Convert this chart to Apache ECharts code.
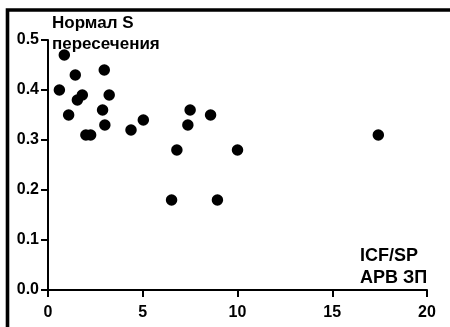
<!DOCTYPE html>
<html><head><meta charset="utf-8">
<script src="https://cdn.jsdelivr.net/npm/echarts@6/dist/echarts.min.js"></script>
<style>html,body{margin:0;padding:0;background:#fff}#c{width:450px;height:327px}</style>
</head><body><div id="c"></div>
<script>
const xValues = [0.86, 0.6, 1.44, 1.09, 1.55, 1.81, 2.0, 2.25, 2.97, 2.88, 3.23, 3.0, 4.38, 5.03, 6.8, 7.5, 7.38, 8.58, 10.0, 17.43, 6.52, 8.94];
const yValues = [0.47, 0.40, 0.43, 0.35, 0.38, 0.39, 0.31, 0.31, 0.44, 0.36, 0.39, 0.33, 0.32, 0.34, 0.28, 0.36, 0.33, 0.35, 0.28, 0.31, 0.18, 0.18];
const yAxisTitle = ['Нормал S', 'пересечения'];
const xAxisTitle = ['ICF/SP', 'АРВ ЗП'];

const points = xValues.map((x, i) => [x, yValues[i]]);
const chart = echarts.init(document.getElementById('c'));
const font = 'Liberation Sans, Arial, sans-serif';
chart.setOption({
  animation: false,
  grid: {left: 48, right: 23, top: 40, bottom: 37},
  xAxis: {
    type: 'value', min: 0, max: 20, interval: 5,
    axisLine: {show: true, lineStyle: {color: '#000', width: 2}},
    axisTick: {show: true, length: 7, lineStyle: {color: '#000', width: 2}},
    splitLine: {show: false},
    axisLabel: {color: '#000', fontFamily: font, fontWeight: 'bold', fontSize: 16, margin: 15}
  },
  yAxis: {
    type: 'value', min: 0, max: 0.5, interval: 0.1,
    axisLine: {show: true, lineStyle: {color: '#000', width: 2}},
    axisTick: {show: true, length: 7, lineStyle: {color: '#000', width: 2}},
    splitLine: {show: false},
    axisLabel: {color: '#000', fontFamily: font, fontWeight: 'bold', fontSize: 16, margin: 9,
      formatter: v => v.toFixed(1)}
  },
  series: [{
    type: 'scatter', data: points, symbol: 'circle', symbolSize: 11.5,
    itemStyle: {color: '#000', opacity: 1}
  }],
  graphic: [
    {type: 'rect', shape: {x: 7.5, y: 10, width: 470, height: 340}, style: {fill: null, stroke: '#000', lineWidth: 3.6}, silent: true},
    {type: 'text', left: 52, top: 13, style: {text: yAxisTitle.join('\n'), font: 'bold 17px ' + font, fill: '#000', lineHeight: 21}},
    {type: 'text', left: 360, top: 245, style: {text: xAxisTitle.join('\n'), font: 'bold 18px ' + font, fill: '#000', lineHeight: 22}}
  ]
});
</script></body></html>
